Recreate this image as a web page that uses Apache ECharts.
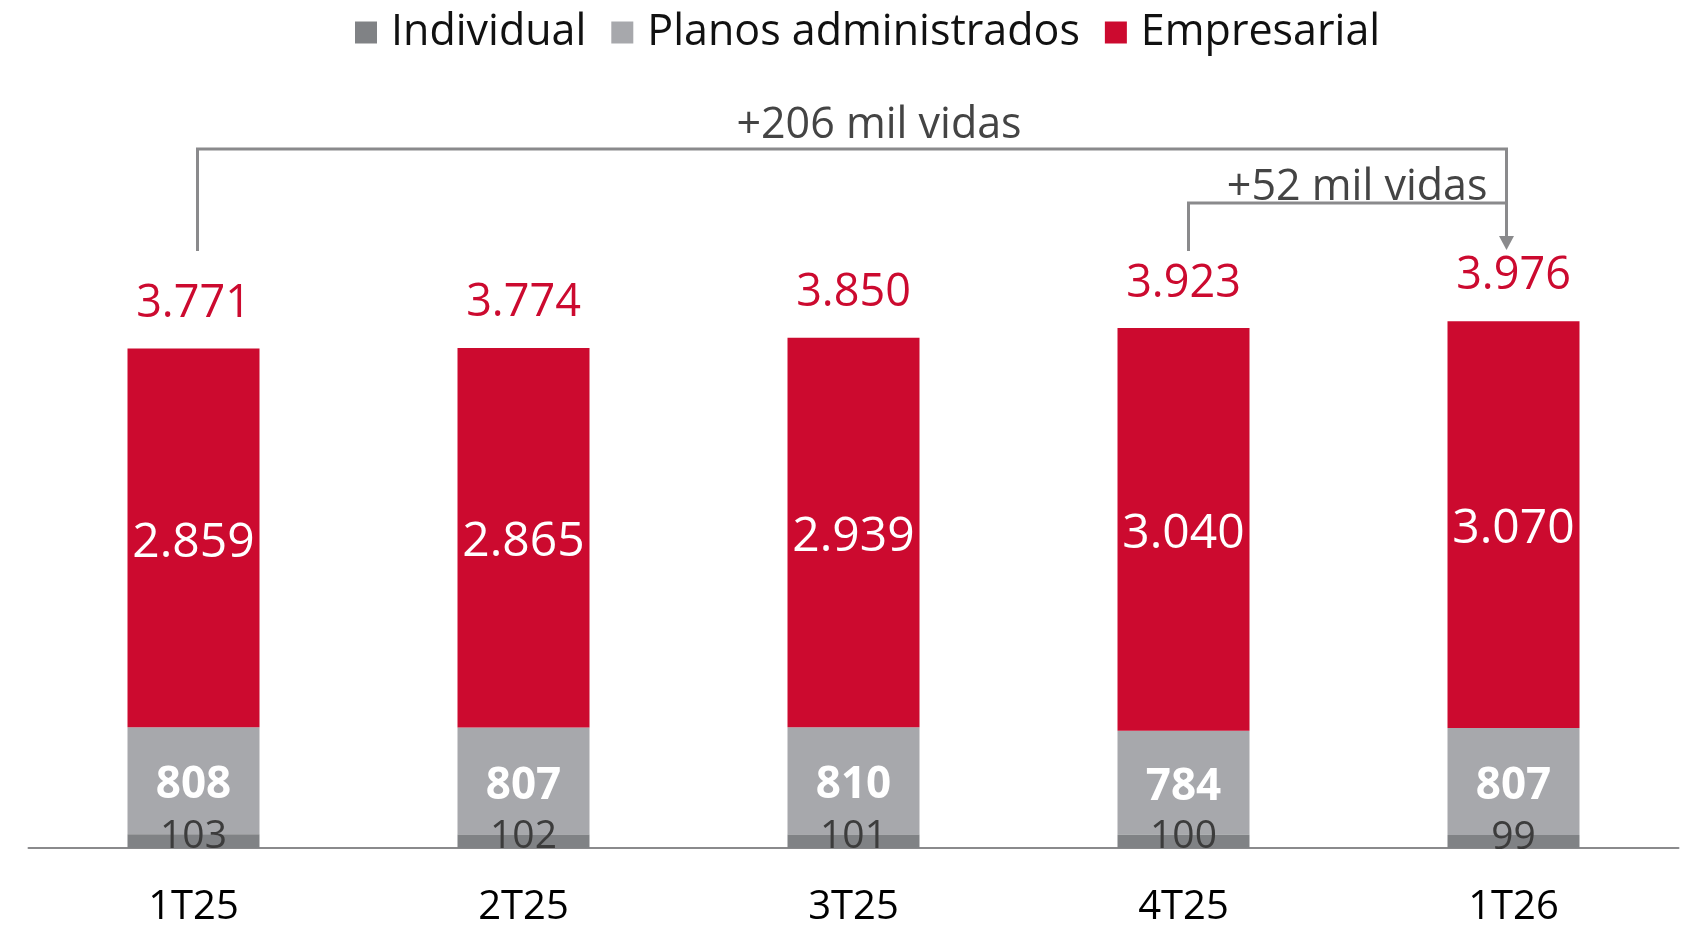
<!DOCTYPE html>
<html>
<head>
<meta charset="utf-8">
<script src="https://cdn.jsdelivr.net/npm/echarts@6/dist/echarts.min.js"></script>
<style>
  html, body { margin: 0; padding: 0; background: #fff; }
  #chart { width: 1687px; height: 928px; }
</style>
</head>
<body>
<div id="chart"></div>
<script>
// data (mil vidas)
var categories = ["1T25", "2T25", "3T25", "4T25", "1T26"];
var individual = [103, 102, 101, 100, 99];
var planos = [808, 807, 810, 784, 807];
var empresarial = [2859, 2865, 2939, 3040, 3070];
var totals = [3771, 3774, 3850, 3923, 3976];
var notes = ["+206 mil vidas", "+52 mil vidas"];

var FONT = "Open Sans";
var RED = "#cc0a2f";
var GREY_LIGHT = "#a7a8ac";
var GREY_DARK = "#808285";
var LINE = "#8a8a8c";

// 3771 -> "3.771"
function fmt(v) {
  return String(v).replace(/\B(?=(\d{3})+(?!\d))/g, ".");
}

var chart = echarts.init(document.getElementById("chart"));

var option = {
  animation: false,
  backgroundColor: "#fff",
  textStyle: { fontFamily: FONT },
  legend: {
    top: 6,
    left: 350,
    itemWidth: 22,
    itemHeight: 22,
    itemGap: 25,
    icon: "rect",
    data: ["Individual", "Planos administrados", "Empresarial"],
    textStyle: {
      fontFamily: FONT,
      fontSize: 43,
      color: "#111",
      padding: [0, 0, 0, 9],
    },
  },
  grid: { left: 28.5, right: 8.5, top: 318, bottom: 80 },
  xAxis: {
    type: "category",
    data: categories,
    axisLine: { lineStyle: { color: LINE, width: 2 } },
    axisTick: { show: false },
    axisLabel: {
      margin: 40,
      fontFamily: FONT,
      fontSize: 40,
      fontWeight: 500,
      color: "#000",
    },
  },
  yAxis: {
    type: "value",
    min: 0,
    max: 4000,
    show: false,
    splitLine: { show: false },
  },
  series: [
    {
      name: "Individual",
      type: "bar",
      stack: "vidas",
      barWidth: "40%",
      z: 3,
      data: individual,
      itemStyle: { color: GREY_DARK },
      label: {
        show: true,
        position: "inside",
        offset: [0, -4],
        fontFamily: FONT,
        fontSize: 39,
        color: "#3c3c3c",
      },
    },
    {
      name: "Planos administrados",
      type: "bar",
      stack: "vidas",
      barWidth: "40%",
      data: planos,
      itemStyle: { color: GREY_LIGHT },
      label: {
        show: true,
        position: "inside",
        offset: [0, 5],
        fontFamily: FONT,
        fontWeight: "bold",
        fontSize: 44,
        color: "#fff",
      },
    },
    {
      name: "Empresarial",
      type: "bar",
      stack: "vidas",
      barWidth: "40%",
      data: empresarial,
      itemStyle: { color: RED },
      label: {
        show: true,
        position: "inside",
        offset: [0, 5],
        fontFamily: FONT,
        fontSize: 48,
        color: "#fff",
        formatter: function (p) { return fmt(p.value); },
      },
    },
    {
      name: "Total",
      type: "bar",
      barWidth: "40%",
      barGap: "-100%",
      silent: true,
      z: 1,
      data: totals,
      itemStyle: { color: "rgba(0,0,0,0)" },
      label: {
        show: true,
        position: "top",
        distance: 22,
        fontFamily: FONT,
        fontSize: 45,
        color: RED,
        formatter: function (p) { return fmt(p.value); },
      },
    },
  ],
};

chart.setOption(option);

// growth brackets, anchored on the category positions
function drawBrackets() {
  var xFirst = chart.convertToPixel({ xAxisIndex: 0 }, categories[0]) + 4;
  var xPrev = chart.convertToPixel({ xAxisIndex: 0 }, categories[3]) + 5;
  var xLast = chart.convertToPixel({ xAxisIndex: 0 }, categories[4]) - 7;
  var yTop = 149, yMid = 203, yEnd = 251;
  var lineStyle = { stroke: LINE, lineWidth: 3 };

  chart.setOption({
    graphic: [
      { type: "polyline", shape: { points: [[xFirst, yEnd], [xFirst, yTop], [xLast, yTop], [xLast, yEnd - 14]] }, style: lineStyle },
      { type: "polyline", shape: { points: [[xPrev, yEnd], [xPrev, yMid], [xLast, yMid]] }, style: lineStyle },
      { type: "polygon", shape: { points: [[xLast - 7.5, yEnd - 15], [xLast + 7.5, yEnd - 15], [xLast, yEnd - 1]] }, style: { fill: LINE } },
      {
        type: "text",
        x: 879, y: 126,
        style: { text: notes[0], font: "43px '" + FONT + "'", fill: "#444", align: "center", verticalAlign: "middle" },
      },
      {
        type: "text",
        x: xLast - 19, y: 188,
        style: { text: notes[1], font: "43px '" + FONT + "'", fill: "#444", align: "right", verticalAlign: "middle" },
      },
    ],
  });
}

drawBrackets();
</script>
</body>
</html>
